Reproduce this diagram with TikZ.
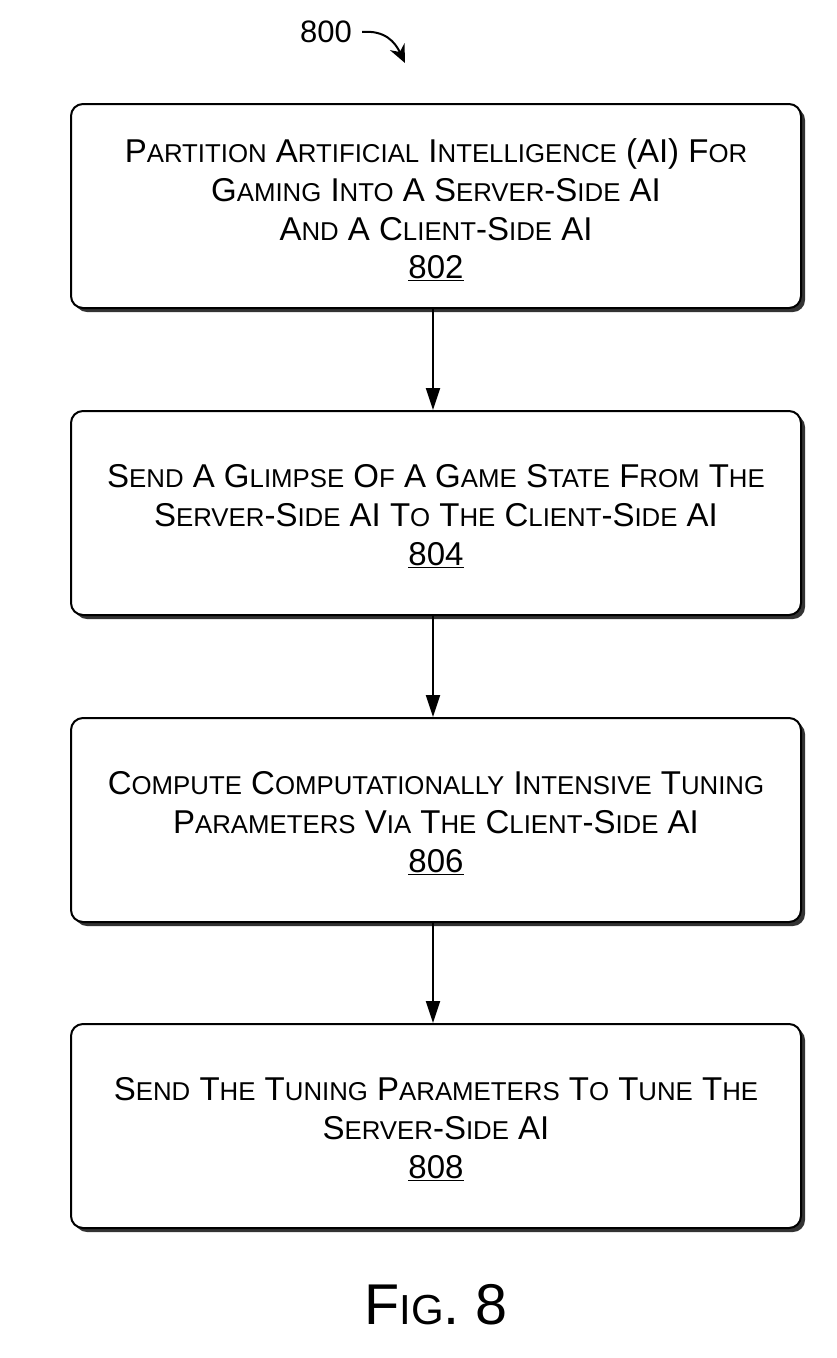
\documentclass[tikz,border=0pt]{standalone}
\usepackage{fontspec}
\setmainfont{Liberation Sans}
\usetikzlibrary{arrows.meta}
\newcommand\sca[1]{{\fontsize{25.8}{38.7}\selectfont #1}}
\newcommand\scb[1]{{\fontsize{42}{50}\selectfont #1}}
\begin{document}
\begin{tikzpicture}[x=1pt,y=-1pt,
  stepbox/.style={draw=black,line width=2pt,rounded corners=12pt,fill=white,
    minimum width=730pt,minimum height=204pt,inner sep=0pt},
  steptext/.style={align=center,inner sep=0pt,font=\fontsize{33}{38.7}\selectfont},
  shadowbox/.style={fill=black!80,rounded corners=12pt,minimum width=730pt,
    minimum height=204pt,inner sep=0pt},
  flow/.style={line width=2pt,-{Triangle[width=14pt,length=22pt]}}]
\useasboundingbox (0,0) rectangle (837,1358);
\foreach \y in {206,513,820,1126}{\node[shadowbox] at (440,\y+4) {};}
\node[stepbox] (b1) at (436,206) {};
\node[stepbox] (b2) at (436,513) {};
\node[stepbox] (b3) at (436,820) {};
\node[stepbox] (b4) at (436,1126) {};
\node[steptext] (t1) at ([yshift=-4pt]b1.center) {P\sca{ARTITION} A\sca{RTIFICIAL} I\sca{NTELLIGENCE} (AI) F\sca{OR}\\G\sca{AMING} I\sca{NTO} A S\sca{ERVER}-S\sca{IDE} AI\\A\sca{ND} A C\sca{LIENT}-S\sca{IDE} AI\\\underline{802}};
\node[steptext] (t2) at ([yshift=-3pt]b2.center) {S\sca{END} A G\sca{LIMPSE} O\sca{F} A G\sca{AME} S\sca{TATE} F\sca{ROM} T\sca{HE}\\S\sca{ERVER}-S\sca{IDE} AI T\sca{O} T\sca{HE} C\sca{LIENT}-S\sca{IDE} AI\\\underline{804}};
\node[steptext] (t3) at ([yshift=-3pt]b3.center) {C\sca{OMPUTE} C\sca{OMPUTATIONALLY} I\sca{NTENSIVE} T\sca{UNING}\\P\sca{ARAMETERS} V\sca{IA} T\sca{HE} C\sca{LIENT}-S\sca{IDE} AI\\\underline{806}};
\node[steptext] (t4) at ([yshift=-3pt]b4.center) {S\sca{END} T\sca{HE} T\sca{UNING} P\sca{ARAMETERS} T\sca{O} T\sca{UNE} T\sca{HE}\\S\sca{ERVER}-S\sca{IDE} AI\\\underline{808}};
\draw[flow] (b1.south -| 433,0) -- (b2.north -| 433,0);
\draw[flow] (b2.south -| 433,0) -- (b3.north -| 433,0);
\draw[flow] (b3.south -| 433,0) -- (b4.north -| 433,0);
\node[font=\fontsize{31}{36}\selectfont,inner sep=0pt] (lbl) at (326,32) {800};
\coordinate (tip) at (405,63);
\draw[line width=2pt,-{Stealth[width=16pt,length=18pt]}] (lbl.east)+(10,0) .. controls (385,30) and (395,42) .. (tip);
\node[font=\fontsize{57.5}{62}\selectfont,inner sep=0pt,anchor=base] (fig) at (436,1324) {F\scb{IG}. 8};
\end{tikzpicture}
\end{document}
